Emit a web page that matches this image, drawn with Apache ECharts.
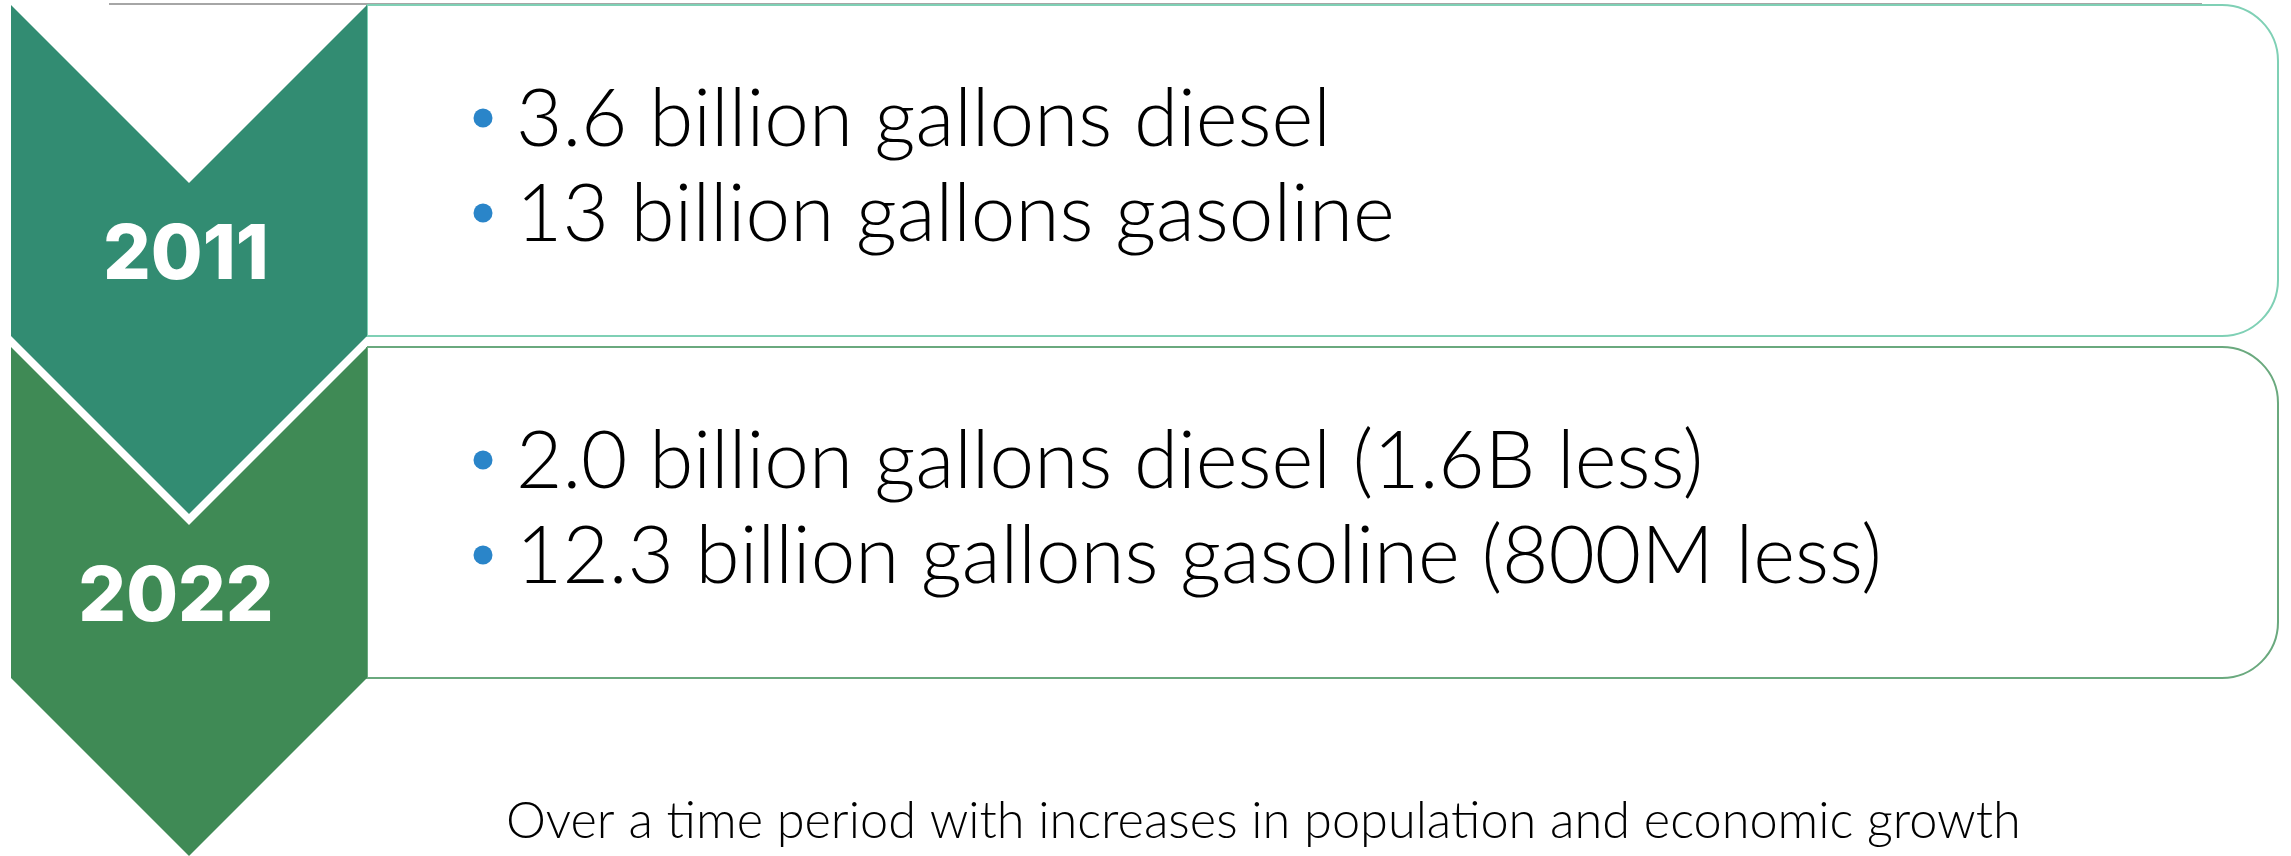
<!DOCTYPE html>
<html>
<head>
<meta charset="utf-8">
<script src="https://cdn.jsdelivr.net/npm/echarts@6/dist/echarts.min.js"></script>
<style>html,body{margin:0;padding:0;background:#fff}#c{width:2291px;height:856px}</style>
</head>
<body>
<div id="c"></div>
<script>
// ---- data ----
const years = ['2011', '2022'];
const bullets2011 = ['3.6 billion gallons diesel', '13 billion gallons gasoline'];
const bullets2022 = ['2.0 billion gallons diesel (1.6B less)', '12.3 billion gallons gasoline (800M less)'];
const caption = 'Over a time period with increases in population and economic growth';

// ---- styles / layout ----
const chevronColors = ['#328c72', '#3f8a55'];
const boxBorders = ['#7fd0b5', '#6aa97e'];
const bulletColor = '#2a85c9';
const rowTop = [5, 347];
const rowH = 331;
const notch = 178;
const chevL = 11, chevR = 367, chevC = 189;
const boxR = 2278, radius = 56;
const yearX = [186, 176];

const bulletsByRow = [bullets2011, bullets2022];

const chart = echarts.init(document.getElementById('c'), null, {renderer: 'canvas'});

function renderItem(params, api) {
  const i = params.dataIndex;
  const T = rowTop[i], B = T + rowH;
  const children = [];
  // box
  children.push({
    type: 'rect',
    shape: {x: chevR, y: T, width: boxR - chevR, height: rowH, r: [0, radius, radius, 0]},
    style: {fill: '#fff', stroke: boxBorders[i], lineWidth: 2}
  });
  // chevron
  children.push({
    type: 'polygon',
    shape: {points: [[chevL, T], [chevC, T + notch], [chevR, T], [chevR, B], [chevC, B + notch], [chevL, B]]},
    style: {fill: chevronColors[i]}
  });
  // year
  children.push({
    type: 'text',
    style: {
      text: years[i], x: yearX[i], y: T + 251, align: 'center', verticalAlign: 'middle',
      fill: '#fff', font: '800 75px Inter, "Liberation Sans", sans-serif'
    }
  });
  // bullets
  const lines = bulletsByRow[i];
  lines.forEach(function (t, k) {
    const cy = T + 113 + k * 95;
    children.push({type: 'circle', shape: {cx: 483, cy: cy, r: 9.5}, style: {fill: bulletColor}});
    children.push({
      type: 'text',
      style: {text: t, x: 516, y: cy + 2, align: 'left', verticalAlign: 'middle',
        fill: '#000', font: '300 80px Lato, sans-serif'}
    });
  });
  return {type: 'group', children: children};
}

chart.setOption({
  animation: false,
  graphic: [
    {type: 'line', shape: {x1: 109, y1: 4, x2: 2202, y2: 4}, style: {stroke: '#a6a6a6', lineWidth: 2}, z: 0},
    {type: 'text', style: {text: caption, x: 506, y: 822, verticalAlign: 'middle', fill: '#000',
      font: '300 50.5px Lato, sans-serif'}}
  ],
  series: [{
    type: 'custom',
    coordinateSystem: 'none',
    data: years.map(function (y, i) { return [i]; }),
    renderItem: renderItem,
    silent: true,
    z: 2
  }]
});
</script>
</body>
</html>
